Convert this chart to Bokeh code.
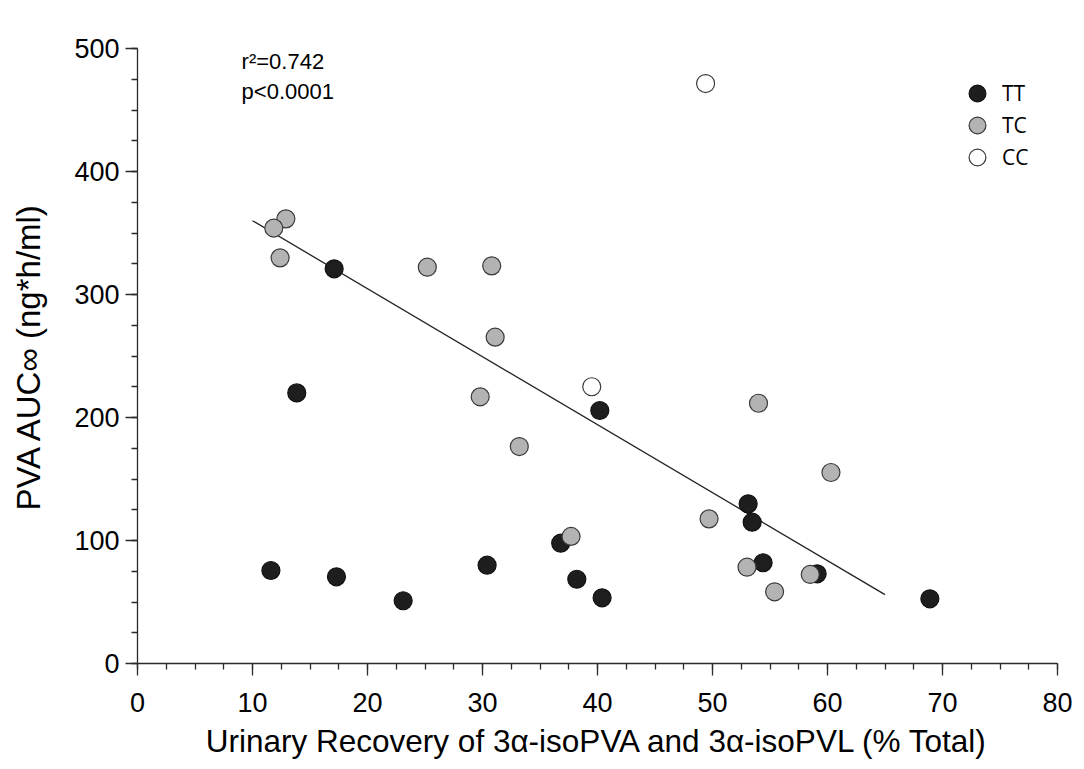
from bokeh.plotting import figure
from bokeh.models import (Range1d, SingleIntervalTicker, Label, Legend, LegendItem)
from bokeh.embed import file_html
from bokeh.resources import INLINE

# ---- data ----
tt_x = [17.1, 13.85, 11.6, 17.3, 23.1, 30.4, 36.8, 38.2, 40.4, 40.2, 53.1, 53.45, 54.4, 59.1, 68.9]
tt_y = [320.9, 220.0, 75.6, 70.5, 51.0, 79.9, 97.8, 68.5, 53.4, 205.7, 129.8, 114.9, 81.9, 72.9, 52.6]

tc_x = [12.9, 11.85, 12.4, 25.2, 30.8, 31.1, 29.8, 33.2, 54.0, 60.3, 49.7, 37.7, 53.0, 58.5, 55.4]
tc_y = [361.5, 354.0, 329.8, 322.2, 323.3, 265.3, 216.8, 176.4, 211.6, 155.3, 117.6, 103.3, 78.3, 72.4, 58.3]

cc_x = [49.4, 39.5]
cc_y = [471.5, 225.0]

fit_x = [10.0, 65.0]
fit_y = [360.0, 56.0]

x_label = "Urinary Recovery of 3\u03b1-isoPVA and 3\u03b1-isoPVL (% Total)"
y_label = "PVA AUC\u221e (ng*h/ml)"
stats_lines = ["r\u00b2=0.742", "p<0.0001"]
groups = ["TT", "TC", "CC"]

W, H = 1084, 769
p = figure(width=W, height=H, output_backend="svg", toolbar_location=None,
           x_range=Range1d(0, 80), y_range=Range1d(0, 500),
           min_border_left=137, min_border_right=27, min_border_top=48, min_border_bottom=106)
p.outline_line_color = None
p.xgrid.visible = False
p.ygrid.visible = False
p.background_fill_color = "white"
p.border_fill_color = "white"

AX = "#2a2a2a"
TICK_FONT = "Liberation Sans"
for ax, ticker in ((p.xaxis[0], SingleIntervalTicker(interval=10, num_minor_ticks=4)),
                   (p.yaxis[0], SingleIntervalTicker(interval=100, num_minor_ticks=4))):
    ax.ticker = ticker
    ax.axis_line_color = AX
    ax.axis_line_width = 1.3
    ax.major_tick_line_color = AX
    ax.minor_tick_line_color = AX
    ax.major_tick_line_width = 1.3
    ax.minor_tick_line_width = 1.3
    ax.major_tick_in = 0
    ax.major_tick_out = 12
    ax.minor_tick_in = 0
    ax.minor_tick_out = 6
    ax.major_label_text_font = TICK_FONT
    ax.major_label_text_font_size = "27px"
    ax.major_label_text_color = "black"
    ax.axis_label_text_font = TICK_FONT
    ax.axis_label_text_font_style = "normal"
    ax.axis_label_text_color = "black"

p.xaxis[0].axis_label = x_label
p.xaxis[0].axis_label_text_font_size = "31.5px"
p.xaxis[0].major_label_standoff = 17
p.xaxis[0].axis_label_standoff = 8
p.yaxis[0].axis_label = y_label
p.yaxis[0].axis_label_text_font_size = "33px"
p.yaxis[0].major_label_standoff = 6
p.yaxis[0].axis_label_standoff = 24

# regression line
p.line(fit_x, fit_y, line_color="#222222", line_width=1.3)

r_tt = p.scatter(tt_x, tt_y, size=18, fill_color="#1e1e1e", line_color="#111111", line_width=1.2)
r_tc = p.scatter(tc_x, tc_y, size=18, fill_color="#b3b3b3", line_color="#3a3a3a", line_width=1.2)
r_cc = p.scatter(cc_x, cc_y, size=18, fill_color="#ffffff", line_color="#3a3a3a", line_width=1.2)

# one single-item legend per group, stacked 32 px apart
for i, (name, rend) in enumerate(zip(groups, [r_tt, r_tc, r_cc])):
    lg = Legend(items=[LegendItem(label=name, renderers=[rend])],
                location=(819, 549 - 32 * i), glyph_width=42, glyph_height=42,
                padding=0, margin=0, label_standoff=4, label_height=42,
                label_text_font="Open Sans", label_text_font_size="21px",
                label_text_color="black",
                border_line_color=None, background_fill_alpha=0)
    p.add_layout(lg)

for i, t in enumerate(stats_lines):
    p.add_layout(Label(x=9.05, y=500 - 24.4 * i, text=t, text_font=TICK_FONT,
                       text_font_size="22px", text_baseline="top", text_color="black"))

open("out.html", "w").write(file_html(p, INLINE))
